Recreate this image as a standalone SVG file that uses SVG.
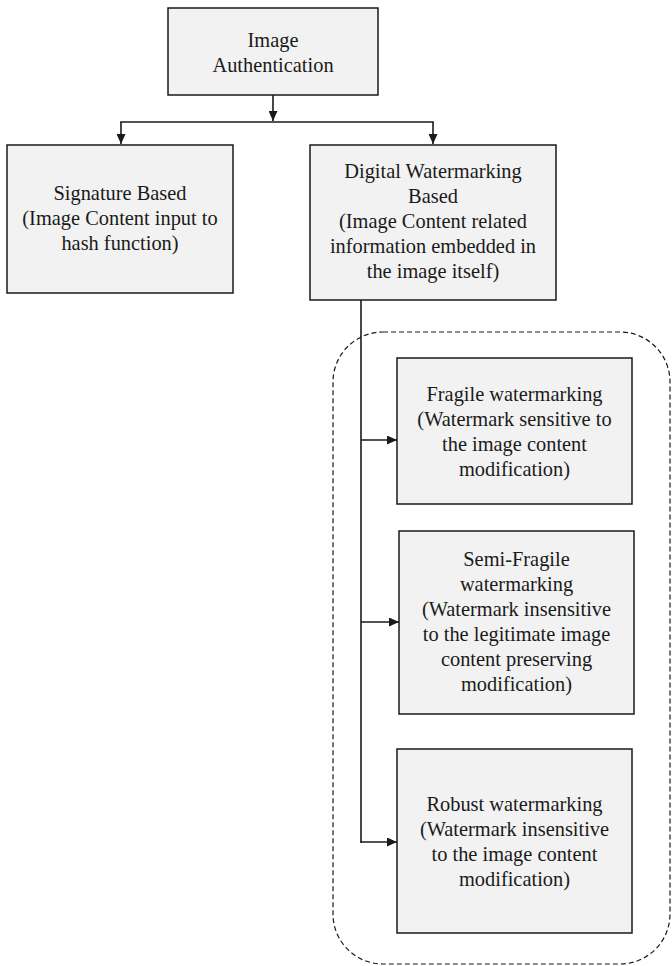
<svg xmlns="http://www.w3.org/2000/svg" width="672" height="966" viewBox="0 0 672 966">
<style>
.box{fill:#f2f2f2;stroke:#1a1a1a;stroke-width:1.5}
.t{font-family:"Liberation Serif","Times New Roman",serif;font-size:20.4px;fill:#1a1a1a;text-anchor:middle}
.c{fill:none;stroke:#1a1a1a;stroke-width:1.6}
.d{fill:none;stroke:#1a1a1a;stroke-width:1.2;stroke-dasharray:5,3}
</style>
<defs>
<marker id="ah" viewBox="0 0 10 9" refX="10" refY="4.5" markerWidth="10" markerHeight="9" markerUnits="userSpaceOnUse" orient="auto">
<path d="M0,0 L10,4.5 L0,9 Z" fill="#1a1a1a"/>
</marker>
</defs>
<rect id="group" class="d" x="333" y="332" width="337" height="632" rx="50" ry="50"/>
<g id="connectors">
<line class="c" x1="273" y1="95" x2="273" y2="121" marker-end="url(#ah)"/>
<line class="c" x1="120.2" y1="122" x2="433.8" y2="122"/>
<line class="c" x1="121" y1="122" x2="121" y2="144" marker-end="url(#ah)"/>
<line class="c" x1="433" y1="122" x2="433" y2="144" marker-end="url(#ah)"/>
<line class="c" x1="361" y1="300" x2="361" y2="842.8"/>
<line class="c" x1="361" y1="440" x2="397" y2="440" marker-end="url(#ah)"/>
<line class="c" x1="361" y1="622" x2="399" y2="622" marker-end="url(#ah)"/>
<line class="c" x1="360.2" y1="842" x2="397" y2="842" marker-end="url(#ah)"/>
</g>
<g id="image-authentication">
<rect class="box" x="168" y="8" width="210" height="87"/>
<text class="t" x="273" y="47">Image</text>
<text class="t" x="273" y="72">Authentication</text>
</g>
<g id="signature-based">
<rect class="box" x="7" y="145" width="226" height="148"/>
<text class="t" x="120" y="200">Signature Based</text>
<text class="t" x="120" y="225">(Image Content input to</text>
<text class="t" x="120" y="250">hash function)</text>
</g>
<g id="digital-watermarking">
<rect class="box" x="310" y="145" width="246" height="155"/>
<text class="t" x="433" y="178">Digital Watermarking</text>
<text class="t" x="433" y="203">Based</text>
<text class="t" x="433" y="228">(Image Content related</text>
<text class="t" x="433" y="253">information embedded in</text>
<text class="t" x="433" y="278">the image itself)</text>
</g>
<g id="fragile">
<rect class="box" x="397" y="358" width="235" height="146"/>
<text class="t" x="514.5" y="401">Fragile watermarking</text>
<text class="t" x="514.5" y="426">(Watermark sensitive to</text>
<text class="t" x="514.5" y="451">the image content</text>
<text class="t" x="514.5" y="476">modification)</text>
</g>
<g id="semi-fragile">
<rect class="box" x="399" y="531" width="235" height="183"/>
<text class="t" x="516.5" y="566">Semi-Fragile</text>
<text class="t" x="516.5" y="591">watermarking</text>
<text class="t" x="516.5" y="616">(Watermark insensitive</text>
<text class="t" x="516.5" y="641">to the legitimate image</text>
<text class="t" x="516.5" y="666">content preserving</text>
<text class="t" x="516.5" y="691">modification)</text>
</g>
<g id="robust">
<rect class="box" x="397" y="749" width="235" height="184"/>
<text class="t" x="514.5" y="811">Robust watermarking</text>
<text class="t" x="514.5" y="836">(Watermark insensitive</text>
<text class="t" x="514.5" y="861">to the image content</text>
<text class="t" x="514.5" y="886">modification)</text>
</g>
</svg>
